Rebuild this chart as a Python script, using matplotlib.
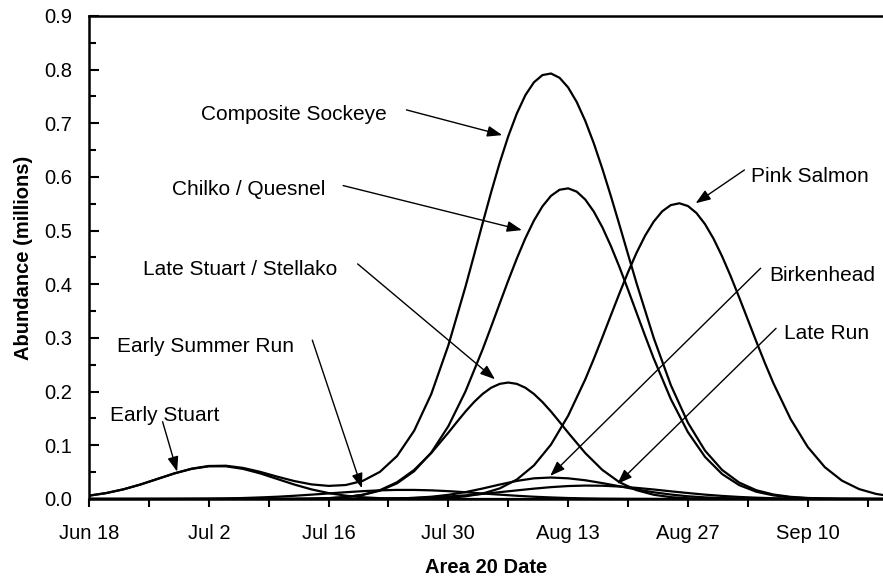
import numpy as np
import matplotlib
matplotlib.use("Agg")
import matplotlib.pyplot as plt
from matplotlib.ticker import MultipleLocator, FormatStrFormatter

plt.rcParams['font.family'] = ['Liberation Sans', 'DejaVu Sans']

# x = days after Jun 18; 2-day steps, 1-day steps around the big peaks
days = list(range(0, 96, 2))
days_composite = list(range(0, 44, 2)) + list(range(44, 65)) + list(range(66, 96, 2))
days_chilko = list(range(0, 46, 2)) + list(range(46, 67)) + list(range(68, 96, 2))
days_pink = list(range(0, 58, 2)) + list(range(58, 81)) + list(range(82, 96, 2))
days_late_stuart = list(range(0, 42, 2)) + list(range(42, 57)) + list(range(58, 96, 2))

early_stuart = [0.0062, 0.0110, 0.0179, 0.0269, 0.0373, 0.0477, 0.0561, 0.0609, 0.0609, 0.0561,
                0.0477, 0.0373, 0.0269, 0.0179, 0.0110, 0.0062, 0.0032, 0.0015, 0.0007, 0.0003,
                0.0001] + [0.0] * 27
early_summer = [0.0, 0.0, 0.0, 0.0, 0.0001, 0.0002, 0.0004, 0.0006, 0.0011, 0.0018,
                0.0029, 0.0042, 0.0060, 0.0081, 0.0103, 0.0126, 0.0146, 0.0161, 0.0169, 0.0169,
                0.0161, 0.0146, 0.0126, 0.0103, 0.0081, 0.0060, 0.0042, 0.0029, 0.0018, 0.0011,
                0.0006, 0.0004, 0.0002, 0.0001] + [0.0] * 14
late_stuart = [0.0] * 11 + [0.0000, 0.0002, 0.0005, 0.0014, 0.0034, 0.0079, 0.0164, 0.0312, 0.0541,
                            0.0856,
                            0.1236, 0.1435, 0.1629, 0.1806, 0.1957, 0.2073, 0.2145, 0.2170,
                            0.2145, 0.2073, 0.1957, 0.1806, 0.1629, 0.1435, 0.1236,
                            0.0856, 0.0541, 0.0312, 0.0164, 0.0079, 0.0034, 0.0014, 0.0005,
                            0.0002] + [0.0] * 10
chilko = [0.0] * 11 + [0.0001, 0.0003, 0.0007, 0.0016, 0.0036, 0.0077, 0.0155, 0.0292, 0.0518,
                       0.0864, 0.1357, 0.2004,
                       0.2785, 0.3209, 0.3642, 0.4070, 0.4480, 0.4858, 0.5187, 0.5454, 0.5649,
                       0.5762, 0.5788, 0.5727, 0.5580, 0.5355, 0.5062, 0.4712, 0.4320, 0.3900,
                       0.3468, 0.3038, 0.2620,
                       0.1862, 0.1245, 0.0784, 0.0464, 0.0258, 0.0135, 0.0067, 0.0031, 0.0014,
                       0.0006, 0.0002, 0.0001, 0.0, 0.0]
birkenhead = [0.0] * 15 + [0.0000, 0.0001, 0.0004, 0.0009, 0.0021, 0.0042, 0.0077, 0.0128, 0.0195,
                           0.0269, 0.0337, 0.0385, 0.0400, 0.0385, 0.0349, 0.0296, 0.0237, 0.0177,
                           0.0125, 0.0083, 0.0051, 0.0030, 0.0017, 0.0009, 0.0004, 0.0002,
                           0.0001] + [0.0] * 6
late_run = [0.0] * 14 + [0.0001, 0.0002, 0.0003, 0.0006, 0.0011, 0.0019, 0.0030, 0.0047, 0.0068,
                         0.0095, 0.0127, 0.0160, 0.0193, 0.0221, 0.0241, 0.0250, 0.0247, 0.0232,
                         0.0207, 0.0177, 0.0143, 0.0111, 0.0081, 0.0057, 0.0038, 0.0024, 0.0014,
                         0.0008, 0.0005, 0.0002, 0.0001, 0.0001, 0.0, 0.0]
pink = [0.0] * 18 + [0.0001, 0.0004, 0.0009, 0.0022, 0.0049, 0.0101, 0.0197, 0.0362, 0.0625, 0.1015,
                     0.1551,
                     0.2228, 0.2611, 0.3013, 0.3424, 0.3833, 0.4226, 0.4589, 0.4907, 0.5168,
                     0.5361, 0.5476, 0.5510, 0.5459, 0.5328, 0.5121, 0.4848, 0.4519, 0.4150,
                     0.3752, 0.3342, 0.2931, 0.2532, 0.2154,
                     0.1490, 0.0970, 0.0593, 0.0342, 0.0185, 0.0094, 0.0045]
composite = [0.0062, 0.0110, 0.0179, 0.0269, 0.0374, 0.0479, 0.0565, 0.0615, 0.0620, 0.0579,
             0.0506, 0.0416, 0.0334, 0.0272, 0.0244, 0.0260, 0.0338, 0.0505, 0.0800, 0.1271,
             0.1954, 0.2863,
             0.3955, 0.4542, 0.5135, 0.5716, 0.6264, 0.6758, 0.7182, 0.7524, 0.7764, 0.7899,
             0.7928, 0.7848, 0.7668, 0.7398, 0.7046, 0.6627, 0.6152, 0.5641, 0.5105, 0.4559,
             0.4018,
             0.3002, 0.2122, 0.1421, 0.0900, 0.0540, 0.0305, 0.0163, 0.0083, 0.0040, 0.0019,
             0.0008, 0.0003, 0.0002, 0.0, 0.0]

tick_days = [0, 14, 28, 42, 56, 70, 84]
tick_labels = ["Jun 18", "Jul 2", "Jul 16", "Jul 30", "Aug 13", "Aug 27", "Sep 10"]

# label, text position (left, centre), arrow tail, arrow head
labels = ["Composite Sockeye", "Chilko / Quesnel", "Late Stuart / Stellako", "Early Summer Run",
          "Early Stuart", "Pink Salmon", "Birkenhead", "Late Run"]
text_pos = [(13.1, 0.717), (9.7, 0.576), (6.3, 0.428), (3.3, 0.285),
            (2.5, 0.155), (77.4, 0.600), (79.5, 0.417), (81.2, 0.309)]
arrow_tail = [(37.1, 0.725), (29.7, 0.584), (31.4, 0.438), (26.1, 0.296),
              (8.6, 0.144), (76.6, 0.613), (78.5, 0.430), (80.3, 0.318)]
arrow_head = [(48.3, 0.678), (50.6, 0.501), (47.45, 0.223), (31.9, 0.020),
              (10.3, 0.051), (70.9, 0.551), (53.9, 0.043), (61.75, 0.028)]

fig = plt.figure(figsize=(8.83, 5.83), dpi=100)
ax = fig.add_axes([0.1008, 0.1441, 0.8992, 0.8285])

curves = [(days, early_stuart), (days, early_summer), (days_late_stuart, late_stuart),
          (days_chilko, chilko), (days, birkenhead), (days, late_run),
          (days_pink, pink), (days_composite, composite)]
for x, y in curves:
    ax.plot(x, y, color='black', linewidth=1.6, solid_joinstyle='round')

for lab, tp, tail, head in zip(labels, text_pos, arrow_tail, arrow_head):
    ax.text(tp[0], tp[1], lab, fontsize=15, ha='left', va='center')
    ax.annotate("", xy=head, xytext=tail,
                arrowprops=dict(arrowstyle='-|>,head_length=0.6,head_width=0.22',
                                color='black', lw=1.0, shrinkA=0, shrinkB=0,
                                mutation_scale=15))

ax.set_xlim(0, 92.8)
ax.set_ylim(0, 0.9)
ax.set_xticks(tick_days)
ax.set_xticklabels(tick_labels)
ax.xaxis.set_minor_locator(MultipleLocator(7))
ax.yaxis.set_major_locator(MultipleLocator(0.1))
ax.yaxis.set_minor_locator(MultipleLocator(0.05))
ax.yaxis.set_major_formatter(FormatStrFormatter('%.1f'))

ax.tick_params(axis='x', which='both', direction='out', length=6, width=1.5,
               labelsize=14.5, pad=12)
ax.tick_params(axis='y', which='major', direction='in', length=7, width=1.5,
               labelsize=14.5, pad=12)
ax.tick_params(axis='y', which='minor', direction='in', length=5, width=1.5)

for side in ['left', 'bottom', 'top']:
    ax.spines[side].set_linewidth(1.8)
ax.spines['right'].set_visible(False)

ax.set_xlabel("Area 20 Date", fontsize=14.5, fontweight='bold', labelpad=11)
ax.set_ylabel("Abundance (millions)", fontsize=14.5, fontweight='bold', labelpad=8)

fig.savefig("out.png", dpi=100)
